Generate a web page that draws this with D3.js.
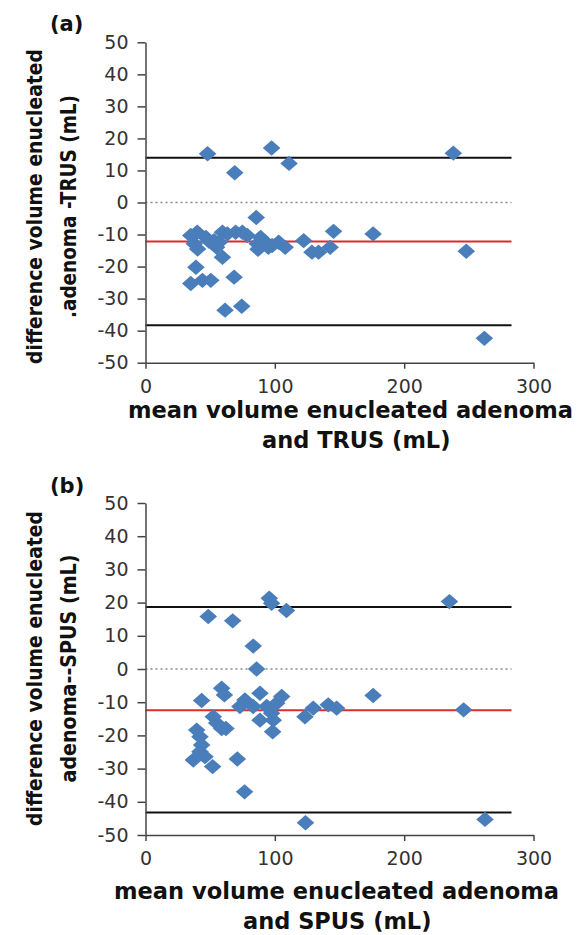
<!DOCTYPE html>
<html>
<head>
<meta charset="utf-8">
<script src="https://cdn.jsdelivr.net/npm/d3@7"></script>
<style>
	body { margin: 0; background: #fff; }
	svg { display: block; }
	.tick text { font-family: "DejaVu Sans", sans-serif; font-size: 19px; fill: #333; }
	.tick line, .domain { stroke: #444; stroke-width: 1.5; }
	.title { font-family: "DejaVu Sans", sans-serif; font-weight: bold; fill: #111; }
</style>
</head>
<body>
<svg width="586" height="935"></svg>
<script>
// tick values
var xTicks = [0, 100, 200, 300];
var yTicks = [-50, -40, -30, -20, -10, 0, 10, 20, 30, 40, 50];

// (a) enucleated adenoma vs TRUS
var trusMean = [48, 97.5, 111, 69, 238, 85.6, 35, 40, 37.7, 40.3, 46.7, 49, 53, 57, 55, 59.5, 63.3, 69.7, 74.9, 78.7,
	59.5, 39, 35, 44, 50.5, 68.5, 61.5, 74.4, 86.4, 89, 87, 92.8, 95, 97.9, 103, 108, 122.3, 128.7, 133.8, 142.8,
	145.4, 176, 248, 262];
var trusDiff = [15.2, 17, 12.2, 9.3, 15.4, -4.7, -10.3, -9.3, -12.9, -14.5, -10.9, -12, -11.9, -12.4, -14, -9.3, -9.8, -9.3, -9.3, -10.3,
	-17.1, -20.2, -25.3, -24.3, -24.3, -23.3, -33.6, -32.4, -12.9, -10.9, -14.6, -12.4, -14, -13.4, -12.4, -14, -11.9, -15.5, -15.5, -14,
	-9, -9.8, -15.2, -42.4];
var trusLines = [14, -12.2, -38.3]; // upper limit, mean, lower limit

// (b) enucleated adenoma vs SPUS
var spusMean = [48.5, 67.4, 83.3, 85.9, 95.7, 97.5, 109, 235, 43.4, 58.9, 61, 52.4, 55, 58.9, 62.2, 39.6, 42.1, 43.4, 42.1, 37,
	46, 51.9, 71, 76.6, 73, 76.9, 83.3, 88.5, 88.5, 93.7, 97.5, 98.8, 105.3, 101.4, 98.3, 123.3, 129.7, 141.3, 147.8, 176,
	246, 123.7, 262.5];
var spusDiff = [15.8, 14.5, 6.9, 0, 21.3, 19.8, 17.6, 20.3, -9.5, -5.8, -7.8, -14.4, -16.3, -17.9, -17.9, -18.4, -20.4, -22.9, -24.9, -27.4,
	-26.4, -29.4, -27.1, -37, -11.3, -9.3, -11.3, -7.3, -15.4, -11.3, -13.3, -15.4, -8.3, -10.3, -18.9, -14.4, -11.8, -10.8, -11.8, -8,
	-12.3, -46.3, -45.3];
var spusLines = [18.7, -12.4, -43.2];

var svg = d3.select("svg");

var x = d3.scaleLinear().domain([0, 300]).range([145.5, 533.5]);

function drawPanel(p) {
	var y = d3.scaleLinear().domain([-50, 50]).range([p.bottom, p.top]);
	var g = svg.append("g");

	g.append("text")
		.attr("class", "title")
		.attr("x", 50)
		.attr("y", p.labelY)
		.attr("font-size", 21)
		.text(p.label);

	// limits of agreement, mean difference and zero line
	g.append("line")
		.attr("x1", x(0)).attr("x2", x(283))
		.attr("y1", y(0)).attr("y2", y(0))
		.attr("stroke", "#888")
		.attr("stroke-width", 1.6)
		.attr("stroke-dasharray", "2,3");

	g.selectAll(".limit")
		.data(p.lines)
		.enter()
		.append("line")
		.attr("class", "limit")
		.attr("x1", x(0)).attr("x2", x(283))
		.attr("y1", function (d) { return y(d); })
		.attr("y2", function (d) { return y(d); })
		.attr("stroke", function (d, i) { return i == 1 ? "#e02a2a" : "#111"; })
		.attr("stroke-width", 2);

	// plain hyphen for negatives, as in the original
	g.append("g")
		.attr("transform", "translate(" + x(0) + ",0)")
		.call(d3.axisLeft(y).tickValues(yTicks).tickFormat(String).tickSize(8).tickSizeOuter(0).tickPadding(9));

	g.append("g")
		.attr("transform", "translate(0," + y(-50) + ")")
		.call(d3.axisBottom(x).tickValues(xTicks).tickFormat(String).tickSize(6).tickSizeOuter(0).tickPadding(11));

	var diamond = d3.symbol().type(d3.symbolSquare).size(140);

	g.selectAll(".pt")
		.data(p.mean)
		.enter()
		.append("path")
		.attr("class", "pt")
		.attr("d", diamond)
		.attr("fill", "#4a7ebb")
		.attr("transform", function (d, i) {
			return "translate(" + x(d) + "," + y(p.diff[i]) + ") scale(1.05,0.92) rotate(45)";
		});

	// axis titles
	g.append("text")
		.attr("class", "title")
		.attr("font-size", 21)
		.attr("text-anchor", "middle")
		.attr("textLength", 315)
		.attr("lengthAdjust", "spacingAndGlyphs")
		.attr("transform", "translate(42," + p.yTitleY + ") rotate(-90)")
		.text("difference volume enucleated");

	g.append("text")
		.attr("class", "title")
		.attr("font-size", 21)
		.attr("text-anchor", "middle")
		.attr("textLength", p.yTitle2Len)
		.attr("lengthAdjust", "spacingAndGlyphs")
		.attr("transform", "translate(76," + p.yTitleY + ") rotate(-90)")
		.text(p.yTitle2);

	g.append("text")
		.attr("class", "title")
		.attr("font-size", 22.5)
		.attr("x", p.xTitleX)
		.attr("y", p.xTitleY)
		.attr("textLength", 445)
		.attr("lengthAdjust", "spacingAndGlyphs")
		.text("mean volume enucleated adenoma");

	g.append("text")
		.attr("class", "title")
		.attr("font-size", 22.5)
		.attr("x", p.xTitle2X)
		.attr("y", p.xTitleY + 30)
		.text(p.xTitle2);
}

drawPanel({
	label: "(a)", labelY: 31, top: 42.3, bottom: 362.7,
	mean: trusMean, diff: trusDiff, lines: trusLines,
	yTitleY: 206.5, yTitle2: ".adenoma -TRUS (mL)", yTitle2Len: 223,
	xTitleX: 128, xTitleY: 418, xTitle2: "and TRUS (mL)", xTitle2X: 262
});

drawPanel({
	label: "(b)", labelY: 493, top: 503, bottom: 835,
	mean: spusMean, diff: spusDiff, lines: spusLines,
	yTitleY: 668.5, yTitle2: "adenoma--SPUS (mL)", yTitle2Len: 228,
	xTitleX: 114, xTitleY: 899, xTitle2: "and SPUS (mL)", xTitle2X: 243
});
</script>
</body>
</html>
